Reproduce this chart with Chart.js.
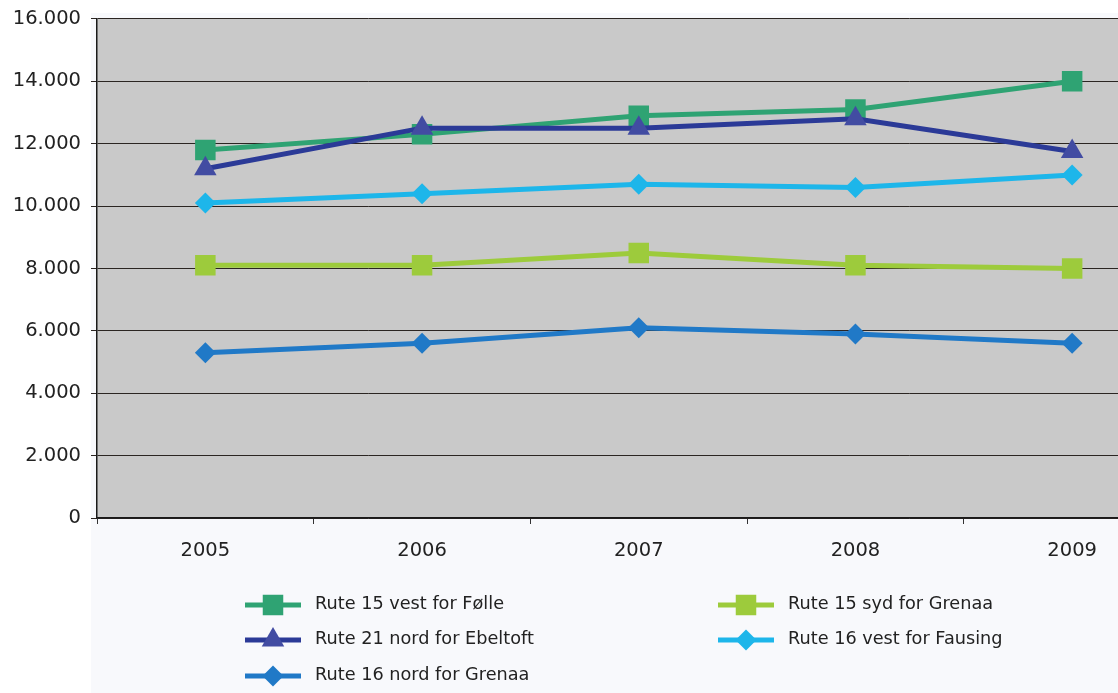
<!DOCTYPE html>
<html>
<head>
<meta charset="utf-8">
<script src="https://cdn.jsdelivr.net/npm/chart.js@4/dist/chart.umd.min.js"></script>
<style>
html,body{margin:0;padding:0;background:#ffffff;overflow:hidden;}
</style>
</head>
<body>
<canvas id="c" width="1195" height="693" style="display:block;width:1195px;height:693px"></canvas>
<script>
const years = ['2005','2006','2007','2008','2009'];
const labels = ['Rute 15 vest for Følle','Rute 15 syd for Grenaa','Rute 21 nord for Ebeltoft','Rute 16 vest for Fausing','Rute 16 nord for Grenaa'];
const rute15Folle    = [11800, 12300, 12900, 13100, 14000];
const rute15SydGrenaa = [8100, 8100, 8500, 8100, 8000];
const rute21Ebeltoft = [11200, 12500, 12500, 12800, 11750];
const rute16Fausing  = [10100, 10400, 10700, 10600, 11000];
const rute16NordGrenaa = [5300, 5600, 6100, 5900, 5600];
const yMin = 0, yMax = 16000, yStep = 2000;

const FONT = '"DejaVu Sans", sans-serif';

function ds(label, data, line, marker, style, radius, order) {
  return {
    label, data,
    borderColor: line, backgroundColor: marker,
    pointBackgroundColor: marker, pointBorderColor: marker,
    pointStyle: style, pointRadius: radius, pointHoverRadius: radius,
    pointBorderWidth: 0, borderWidth: 5, tension: 0, order
  };
}

const datasets = [
  ds(labels[0], rute15Folle, '#2FA373', '#2FA373', 'rect', 14.5, 2),
  ds(labels[1], rute15SydGrenaa, '#9DCB3C', '#9DCB3C', 'rect', 14.5, 3),
  ds(labels[2], rute21Ebeltoft, '#2B3A97', '#424CA2', 'triangle', 13, 1),
  ds(labels[3], rute16Fausing, '#1DB6EA', '#1DB6EA', 'rectRot', 10.5, 4),
  ds(labels[4], rute16NordGrenaa, '#2079C7', '#2079C7', 'rectRot', 10.5, 5)
];

const bgPlugin = {
  id: 'bg',
  beforeDraw(chart) {
    const {ctx, chartArea: a} = chart;
    ctx.save();
    ctx.fillStyle = '#F8F9FC';
    ctx.fillRect(a.left - 6, a.top - 6, chart.width, chart.height);
    ctx.fillStyle = '#C9C9C9';
    ctx.fillRect(a.left, a.top, a.right - a.left, a.bottom - a.top);
    ctx.restore();
  }
};

function drawMarker(ctx, style, x, y, r, color) {
  ctx.fillStyle = color;
  ctx.beginPath();
  if (style === 'rect') {
    const s = Math.SQRT1_2 * r;
    ctx.rect(x - s, y - s, 2 * s, 2 * s);
  } else if (style === 'triangle') {
    ctx.moveTo(x, y - r);
    ctx.lineTo(x + r * Math.sqrt(3) / 2, y + r / 2);
    ctx.lineTo(x - r * Math.sqrt(3) / 2, y + r / 2);
    ctx.closePath();
  } else {
    ctx.moveTo(x, y - r); ctx.lineTo(x + r, y); ctx.lineTo(x, y + r); ctx.lineTo(x - r, y); ctx.closePath();
  }
  ctx.fill();
}

const legendPlugin = {
  id: 'customLegend',
  afterDraw(chart) {
    const ctx = chart.ctx;
    const cols = [245, 718];
    const rows = [605, 640, 676];
    ctx.save();
    chart.data.datasets.forEach((d, i) => {
      const cx = cols[i % 2], cy = rows[Math.floor(i / 2)];
      ctx.strokeStyle = d.borderColor;
      ctx.lineWidth = 5;
      ctx.beginPath(); ctx.moveTo(cx, cy); ctx.lineTo(cx + 56, cy); ctx.stroke();
      drawMarker(ctx, d.pointStyle, cx + 28, cy, d.pointRadius, d.pointBackgroundColor);
      ctx.fillStyle = '#222';
      ctx.font = '17.7px ' + FONT;
      ctx.textBaseline = 'middle';
      ctx.textAlign = 'left';
      ctx.fillText(d.label, cx + 70, cy - 1);
    });
    ctx.restore();
  }
};

const chart = new Chart(document.getElementById('c'), {
  type: 'line',
  data: { labels: years, datasets },
  plugins: [bgPlugin, legendPlugin],
  options: {
    responsive: false,
    animation: false,
    layout: { padding: { top: 17, right: 10, left: 0, bottom: 0 } },
    plugins: { legend: { display: false }, tooltip: { enabled: false } },
    scales: {
      x: {
        offset: true,
        afterFit(s) { s.height = 175; },
        grid: { display: true, offset: true, drawOnChartArea: false, drawTicks: true, tickLength: 6, color: '#333', lineWidth: 1 },
        border: { display: true, color: '#1a1a1a', width: 1.5 },
        ticks: { color: '#222', font: { family: FONT, size: 19.5 }, padding: 15 }
      },
      y: {
        min: yMin, max: yMax,
        afterFit(s) { s.width = 97; },
        grid: { color: '#2b2522', lineWidth: 1, tickLength: 6 },
        border: { display: true, color: '#1a1a1a', width: 1.5 },
        ticks: {
          stepSize: yStep,
          color: '#222',
          font: { family: FONT, size: 19.5, lineHeight: 0.92 },
          padding: 10,
          callback: v => v.toLocaleString('de-DE')
        }
      }
    }
  }
});
</script>
</body>
</html>
